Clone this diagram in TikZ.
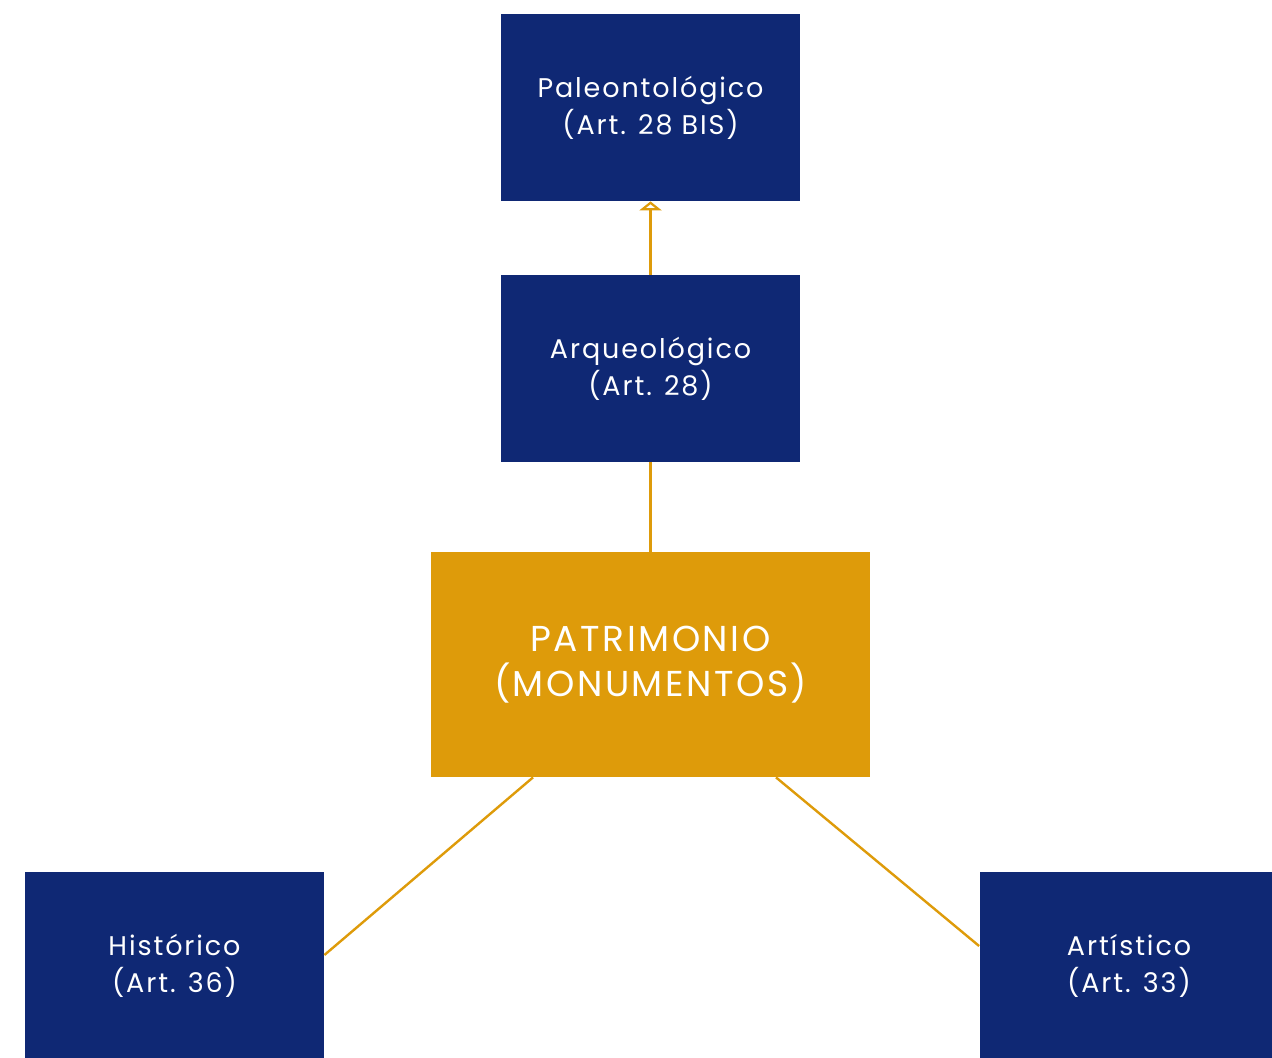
\documentclass[tikz,border=0pt]{standalone}
\usepackage{fontspec}
\setmainfont{Poppins}[LetterSpace=7]
\usepackage{tikz}
\usetikzlibrary{arrows.meta,positioning}
\definecolor{MonuNavy}{HTML}{0F2874}
\definecolor{MonuGold}{HTML}{DE9B0A}

\begin{document}
\begin{tikzpicture}[x=0.5pt, y=-0.5pt,
        block/.style={rectangle, fill=MonuNavy, text=white, align=center, minimum width=149.5pt, minimum height=93.5pt, inner sep=0pt, font=\fontsize{13.5}{18.5}\selectfont},
        mainblock/.style={rectangle, fill=MonuGold, text=white, align=center, minimum width=219.5pt, minimum height=112.5pt, inner sep=0pt, font=\fontsize{18}{22.5}\selectfont},
        link/.style={draw=MonuGold, line width=1.2pt},
        arrow/.style={draw=MonuGold, line width=1.5pt, -{Triangle[open, width=11pt, length=4.5pt, line width=1.5pt]}}]

        \useasboundingbox (0,0) rectangle (1272,1058);

        \node[block] (paleo) at (650.5,107.5) {Paleontológico\\(Art. 28 BIS)};
        \node[block] (arqueo) at (650.5,368.5) {Arqueológico\\(Art. 28)};
        \node[mainblock] (patri) at (650.5,664.5) {PATRIMONIO\\(MONUMENTOS)};
        \node[block] (hist) at (174.5,965.5) {Histórico\\(Art. 36)};
        \node[block] (arti) at (1129,965.5) {Artístico\\(Art. 33)};

        \draw[arrow] (arqueo) -- (paleo);
        \draw[link] (patri) -- (arqueo);
        \draw[link] ([xshift=-58.75pt]patri.south) -- ([yshift=5.25pt]hist.east);
        \draw[link] ([xshift=62.75pt]patri.south) -- ([yshift=9.75pt]arti.west);
\end{tikzpicture}
\end{document}
